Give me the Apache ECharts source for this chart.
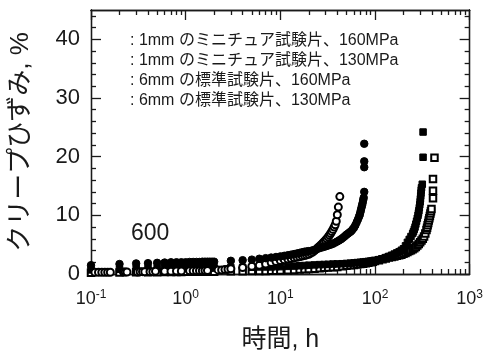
<!DOCTYPE html>
<html>
<head>
<meta charset="utf-8">
<script src="https://cdn.jsdelivr.net/npm/echarts@6/dist/echarts.min.js"></script>
<style>
  html, body { margin: 0; padding: 0; background: #fff; }
  #chart { width: 486px; height: 358px; }
</style>
</head>
<body>
<div id="chart"></div>
<script>
const FONT = '"Liberation Sans", Arial, "Noto Sans CJK JP", sans-serif';

// tick values / labels
const xMajorTicks = [0.1, 1, 10, 100, 1000];
const xTickExponents = ['-1', '0', '1', '2', '3'];
const xMinorTicks = [
  0.2, 0.3, 0.4, 0.5, 0.6, 0.7, 0.8, 0.9,
  2, 3, 4, 5, 6, 7, 8, 9,
  20, 30, 40, 50, 60, 70, 80, 90,
  200, 300, 400, 500, 600, 700, 800, 900,
];
const yMajorTicks = [0, 10, 20, 30, 40];
const yMinorTicks = [2, 4, 6, 8, 12, 14, 16, 18, 22, 24, 26, 28, 32, 34, 36, 38, 42, 44];

const legendLabels = [
  ': 1mm のミニチュア試験片、160MPa',
  ': 1mm のミニチュア試験片、130MPa',
  ': 6mm の標準試験片、160MPa',
  ': 6mm の標準試験片、130MPa',
];
const noteLabel = '600';

// [time h, creep strain %]
// open circles
const mini160 = [
  [0.11, 0.3], [0.12, 0.3], [0.13, 0.3], [0.14, 0.3], [0.15, 0.3], [0.16, 0.3],
  [0.22, 0.35], [0.23, 0.35], [0.24, 0.35],
  [0.31, 0.35], [0.33, 0.4], [0.35, 0.4], [0.37, 0.4],
  [0.42, 0.4], [0.45, 0.4], [0.48, 0.45],
  [0.6, 0.45], [0.7, 0.45], [0.8, 0.5], [0.9, 0.5],
  [1.1, 0.55], [1.2, 0.55], [1.3, 0.55], [1.4, 0.55], [1.5, 0.55], [1.6, 0.6], [1.7, 0.6],
  [2.2, 0.7], [2.4, 0.7], [2.6, 0.75], [2.8, 0.8],
  [3, 0.9], [4, 1.1], [5, 1.3], [6, 1.5], [7, 1.7], [8, 1.95], [9, 2.15], [10, 2.3],
  [11, 2.45], [12, 2.55], [13, 2.65], [14, 2.75], [15, 2.85], [16, 2.95], [17, 3.05],
  [18, 3.15], [19, 3.25], [20, 3.35], [21, 3.55], [22, 3.75], [23, 4.0], [24, 4.25],
  [25, 4.5], [26, 4.75], [27, 5.0], [28, 5.25], [29, 5.5], [30, 5.75], [31, 6.0],
  [32, 6.3], [33, 6.6], [34, 6.9], [35, 7.25], [36, 7.6], [37, 8.0], [38, 8.4],
  [39, 9.0], [40, 10.1], [41, 11.4], [42.5, 13.2],
];
// filled circles
const mini130 = [
  [0.1, 1.5], [0.2, 1.7], [0.3, 1.8], [0.4, 1.85], [0.5, 1.9], [0.6, 1.95], [0.7, 2.0],
  [0.8, 2.0], [0.9, 2.0], [1.0, 2.0], [1.1, 2.05], [1.2, 2.05], [1.3, 2.05], [1.4, 2.05],
  [1.5, 2.1], [1.6, 2.1], [1.7, 2.1], [1.8, 2.1], [1.9, 2.1], [2.0, 2.1],
  [3, 2.25], [4, 2.35], [5, 2.45], [6, 2.6], [7, 2.7], [8, 2.8], [9, 2.9], [10, 3.0],
  [11, 3.1], [12, 3.2], [13, 3.3], [14, 3.4], [15, 3.5], [16, 3.6], [17, 3.7], [18, 3.8],
  [19, 3.85], [20, 3.9], [22, 4.05], [24, 4.2], [26, 4.4], [28, 4.55], [30, 4.7],
  [32, 4.85], [34, 5.0], [36, 5.15], [38, 5.35], [40, 5.55], [42, 5.75], [44, 5.95],
  [46, 6.2], [48, 6.45], [50, 6.7], [52, 6.9], [54, 7.1], [56, 7.3], [58, 7.6], [60, 7.9],
  [62, 8.3], [64, 8.8], [66, 9.3], [68, 9.8], [69, 10.1], [70, 10.5], [71, 10.9],
  [72, 11.3], [73, 11.7], [74, 12.1], [75, 12.6], [76, 13.0], [77, 14.0],
  [77, 18.2], [77, 19.2], [77, 22.2],
];
// filled squares
const std160 = [
  [0.1, 0.7], [0.2, 0.8], [0.3, 0.9], [0.4, 0.9], [0.5, 0.95], [0.6, 1.0], [0.7, 1.0],
  [0.8, 1.0], [0.9, 1.0], [1.0, 1.0], [1.1, 1.0], [1.2, 1.0], [1.3, 1.05], [1.4, 1.05],
  [1.5, 1.05], [1.6, 1.05], [1.7, 1.05], [1.8, 1.05], [1.9, 1.05], [2.0, 1.05],
  [3, 1.1], [4, 1.15], [5, 1.15], [6, 1.2], [7, 1.2], [8, 1.2], [9, 1.25], [10, 1.25],
  [12, 1.3], [14, 1.35], [16, 1.4], [18, 1.45], [20, 1.5], [23, 1.55], [26, 1.6],
  [29, 1.62], [32, 1.65], [36, 1.7], [40, 1.72], [45, 1.75], [50, 1.8], [55, 1.85],
  [60, 1.9], [65, 1.95], [70, 2.0], [75, 2.05], [80, 2.1], [85, 2.15], [90, 2.2],
  [95, 2.25], [100, 2.3], [110, 2.45], [120, 2.6], [130, 2.8], [140, 3.0], [150, 3.2],
  [160, 3.4], [170, 3.6], [180, 3.8], [190, 4.05], [200, 4.3], [210, 4.8], [220, 5.4],
  [230, 5.9], [240, 6.4], [250, 6.9], [255, 7.2], [260, 7.6], [265, 8.0], [270, 8.5],
  [275, 9.0], [280, 9.5], [285, 10.0], [288, 10.4], [291, 10.8], [294, 11.3], [297, 11.8],
  [300, 12.3], [302, 12.8], [304, 13.3], [306, 13.8], [308, 14.3], [310, 14.7],
  [316, 15.3], [322, 19.9], [322, 24.2],
];
// open squares
const std130 = [
  [0.1, 0.2], [0.2, 0.25], [0.3, 0.3], [0.4, 0.3], [0.5, 0.3], [0.6, 0.35], [0.7, 0.35],
  [0.8, 0.35], [0.9, 0.35], [1.0, 0.4], [1.2, 0.4], [1.4, 0.4], [1.6, 0.4], [1.8, 0.4],
  [2.0, 0.4], [3, 0.45], [4, 0.45], [5, 0.5], [6, 0.5], [7, 0.5], [8, 0.55], [9, 0.55],
  [10, 0.6], [12, 0.65], [14, 0.7], [16, 0.75], [18, 0.8], [20, 0.85], [23, 0.9],
  [26, 1.0], [29, 1.05], [32, 1.1], [36, 1.15], [40, 1.2], [45, 1.3], [50, 1.4],
  [55, 1.5], [60, 1.55], [65, 1.6], [70, 1.7], [75, 1.75], [80, 1.85], [85, 1.9],
  [90, 2.0], [95, 2.1], [100, 2.2], [110, 2.35], [120, 2.5], [130, 2.65], [140, 2.8],
  [150, 2.9], [160, 3.0], [170, 3.1], [180, 3.2], [190, 3.3], [200, 3.45], [210, 3.6],
  [220, 3.75], [230, 3.9], [240, 4.05], [250, 4.2], [260, 4.4], [270, 4.6], [280, 4.85],
  [290, 5.1], [300, 5.4], [310, 5.7], [320, 6.0], [330, 6.4], [340, 6.9], [350, 7.5],
  [355, 7.9], [360, 8.3], [365, 8.7], [370, 9.1], [375, 9.5], [380, 9.9], [385, 10.3],
  [390, 10.7], [395, 11.1], [410, 12.9], [410, 14.2], [410, 16.2], [425, 19.8],
];

const ink = '#1a1a1a';
const line = { color: ink, width: 1.3 };

const xAxisDef = (position, ticks, tickLen, withLabels) => ({
  type: 'log',
  logBase: 10,
  min: 0.1,
  max: 1000,
  position,
  axisLine: { show: true, onZero: false, lineStyle: line },
  axisTick: { show: true, inside: true, length: tickLen, customValues: ticks, lineStyle: line },
  axisLabel: withLabels
    ? {
        show: true,
        margin: 15,
        customValues: xMajorTicks,
        formatter: (v) => {
          const i = xMajorTicks.findIndex((t) => Math.abs(t - v) / t < 1e-6);
          return '{b|10}{s|' + xTickExponents[i] + '}';
        },
        rich: {
          b: { fontSize: 18, fontFamily: FONT, color: ink },
          s: { fontSize: 12, fontFamily: FONT, color: ink, verticalAlign: 'top', padding: [0, 0, 8, 0] },
        },
      }
    : { show: false },
  splitLine: { show: false },
  minorTick: { show: false },
});

const yAxisDef = (position, ticks, tickLen, withLabels) => ({
  type: 'value',
  min: 0,
  max: 45,
  position,
  axisLine: { show: true, onZero: false, lineStyle: line },
  axisTick: { show: true, inside: true, length: tickLen, customValues: ticks, lineStyle: line },
  axisLabel: withLabels
    ? { show: true, margin: 11, customValues: yMajorTicks, fontSize: 22, fontFamily: FONT, color: ink }
    : { show: false },
  splitLine: { show: false },
  minorTick: { show: false },
});

const xMain = xAxisDef('bottom', xMajorTicks, 10, true);
xMain.name = '時間, h';
xMain.nameLocation = 'middle';
xMain.nameGap = 54;
xMain.nameTextStyle = { fontSize: 25, fontFamily: FONT, color: ink };

const yMain = yAxisDef('left', yMajorTicks, 10, true);
yMain.name = 'クリープひずみ, %';
yMain.nameLocation = 'middle';
yMain.nameGap = 57;
yMain.nameTextStyle = { fontSize: 26, fontFamily: FONT, color: ink };

const scatter = (name, data, symbol, size, z) => ({
  name,
  type: 'scatter',
  data,
  symbol,
  symbolSize: size,
  xAxisIndex: 0,
  yAxisIndex: 0,
  z,
  itemStyle: { color: '#000', borderColor: '#000', borderWidth: 1, opacity: 1 },
  emphasis: { disabled: true },
});

const chart = echarts.init(document.getElementById('chart'));
chart.setOption({
  animation: false,
  backgroundColor: '#fff',
  grid: { left: 91, right: 16, top: 10, bottom: 78, containLabel: false },
  xAxis: [
    xMain,
    xAxisDef('bottom', xMinorTicks, 5, false),
    xAxisDef('top', xMajorTicks, 10, false),
    xAxisDef('top', xMinorTicks, 5, false),
  ],
  yAxis: [
    yMain,
    yAxisDef('left', yMinorTicks, 5, false),
    yAxisDef('right', yMajorTicks, 10, false),
    yAxisDef('right', yMinorTicks, 5, false),
  ],
  series: [
    scatter('6mm 130MPa', std130, 'emptyRect', 6.5, 2),
    scatter('6mm 160MPa', std160, 'rect', 6.5, 3),
    scatter('1mm 160MPa', mini160, 'emptyCircle', 7, 4),
    scatter('1mm 130MPa', mini130, 'circle', 7.5, 5),
  ],
  graphic: [
    ...legendLabels.map((text, i) => ({
      type: 'text',
      left: 130,
      top: 33 + i * 19.7,
      style: { text, fontSize: 16, fontFamily: FONT, fill: ink },
    })),
    {
      type: 'text',
      left: 131,
      top: 222,
      style: { text: noteLabel, fontSize: 23, fontFamily: FONT, fill: ink },
    },
  ],
});
</script>
</body>
</html>
